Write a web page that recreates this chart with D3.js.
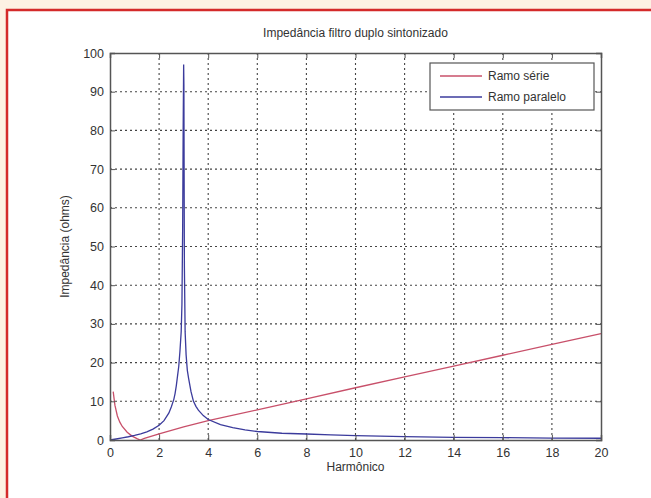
<!DOCTYPE html>
<html>
<head>
<meta charset="utf-8">
<script src="https://cdn.jsdelivr.net/npm/d3@7"></script>
<style>
  body { margin: 0; background: #fdf1e3; overflow: hidden; }
  svg { display: block; font-family: "Liberation Sans", Arial, sans-serif; }
</style>
</head>
<body>
<svg id="chart"></svg>
<script>
// harmonic order samples and impedance (ohms)
var serieH = [0.13, 0.2, 0.3, 0.4, 0.5, 0.7, 0.9, 1.1, 1.23, 1.4, 1.7, 2, 3, 4, 6, 8, 10, 12, 14, 16, 18, 20];
var serieZ = [12.5, 9, 6.2, 4.6, 3.5, 2.0, 1.0, 0.35, 0, 0.4, 1.0, 1.6, 3.4, 5.0, 7.8, 10.6, 13.5, 16.3, 19.1, 21.9, 24.7, 27.5];

var paraleloH = [0, 0.25, 0.5, 0.75, 1, 1.25, 1.5, 1.75, 2, 2.2, 2.4, 2.5, 2.6, 2.65, 2.7, 2.75, 2.8, 2.85, 2.9, 2.93, 2.96, 2.98, 3.0,
                 3.01, 3.03, 3.06, 3.1, 3.15, 3.2, 3.3, 3.4, 3.5, 3.6, 3.8, 4, 4.5, 5, 5.5, 6, 7, 8, 9, 10, 12, 14, 16, 18, 20];
var paraleloZ = [0, 0.26, 0.54, 0.84, 1.18, 1.6, 2.1, 2.8, 3.8, 5.0, 7.0, 8.6, 10.5, 12, 14, 16.5, 19, 23, 28, 35, 55, 80, 97,
                 92, 45, 28, 22, 18, 16, 12.5, 10, 8.7, 7.7, 6.3, 5.3, 4.0, 3.2, 2.6, 2.2, 1.75, 1.55, 1.3, 1.15, 0.85, 0.7, 0.6, 0.5, 0.45];

var xTicks = [0, 2, 4, 6, 8, 10, 12, 14, 16, 18, 20];
var yTicks = [0, 10, 20, 30, 40, 50, 60, 70, 80, 90, 100];
var seriesNames = ["Ramo série", "Ramo paralelo"];
var seriesColors = ["#c8506a", "#3b3b9c"];

var width = 651, height = 498;
var margin = { left: 110, right: 50, top: 53, bottom: 58 };

var svg = d3.select("#chart").attr("width", width).attr("height", height);

// white panel, red frame only on top and left (it runs off the other edges)
svg.append("rect")
    .attr("x", 7).attr("y", 10)
    .attr("width", width - 7).attr("height", height - 10)
    .attr("fill", "#fff");
svg.append("path")
    .attr("d", `M7,${height} V10 H${width}`)
    .attr("fill", "none")
    .attr("stroke", "#d42a2a")
    .attr("stroke-width", 2.5);

var x = d3.scaleLinear().domain([0, 20]).range([margin.left, width - margin.right]);
var y = d3.scaleLinear().domain([0, 100]).range([height - margin.bottom, margin.top]);

var g = svg.append("g");

// dotted grid
g.selectAll(".vgrid").data(xTicks.slice(1, -1)).enter()
  .append("line")
    .attr("x1", d => x(d)).attr("x2", d => x(d))
    .attr("y1", y(0)).attr("y2", y(100))
    .attr("stroke", "#444").attr("stroke-width", 1.1)
    .attr("stroke-dasharray", "2,3");
g.selectAll(".hgrid").data(yTicks.slice(1, -1)).enter()
  .append("line")
    .attr("x1", x(0)).attr("x2", x(20))
    .attr("y1", d => y(d)).attr("y2", d => y(d))
    .attr("stroke", "#444").attr("stroke-width", 1.1)
    .attr("stroke-dasharray", "2,3");

// curves
var line = d3.line().x(d => x(d[0])).y(d => y(d[1]));

g.append("path")
    .datum(d3.zip(serieH, serieZ))
    .attr("d", line)
    .attr("fill", "none")
    .attr("stroke", seriesColors[0])
    .attr("stroke-width", 1.3);

g.append("path")
    .datum(d3.zip(paraleloH, paraleloZ))
    .attr("d", line)
    .attr("fill", "none")
    .attr("stroke", seriesColors[1])
    .attr("stroke-width", 1.3);

// axes (inward ticks, box)
var axisColor = "#555";
var xb = g.append("g").attr("transform", `translate(0,${y(0)})`)
    .call(d3.axisBottom(x).tickValues(xTicks).tickSize(-5).tickPadding(8));
var xt = g.append("g").attr("transform", `translate(0,${y(100)})`)
    .call(d3.axisTop(x).tickValues(xTicks).tickSize(-5).tickFormat(""));
var yl = g.append("g").attr("transform", `translate(${x(0)},0)`)
    .call(d3.axisLeft(y).tickValues(yTicks).tickSize(-5).tickPadding(6));
var yr = g.append("g").attr("transform", `translate(${x(20)},0)`)
    .call(d3.axisRight(y).tickValues(yTicks).tickSize(-5).tickFormat(""));

[xb, xt, yl, yr].forEach(a => {
  a.select(".domain").attr("stroke", axisColor).attr("stroke-width", 1.5);
  a.selectAll(".tick line").attr("stroke", axisColor);
  a.selectAll("text").attr("fill", "#333").style("font-size", "12.5px")
    .style("font-family", "'Liberation Sans', Arial, sans-serif");
});

// labels
svg.append("text")
    .attr("x", x(10)).attr("y", 37)
    .attr("text-anchor", "middle")
    .attr("fill", "#333").style("font-size", "12px")
    .text("Impedância filtro duplo sintonizado");

svg.append("text")
    .attr("x", x(10)).attr("y", 471)
    .attr("text-anchor", "middle")
    .attr("fill", "#333").style("font-size", "12px")
    .text("Harmônico");

svg.append("text")
    .attr("transform", `translate(69,${y(50)}) rotate(-90)`)
    .attr("text-anchor", "middle")
    .attr("fill", "#333").style("font-size", "12px")
    .text("Impedância (ohms)");

// legend
var legend = svg.append("g").attr("transform", "translate(430,63)");
legend.append("rect")
    .attr("width", 164).attr("height", 47)
    .attr("fill", "#fff")
    .attr("stroke", "#555").attr("stroke-width", 1.2);

var rows = legend.selectAll(".row").data(seriesNames).enter()
  .append("g")
    .attr("transform", (d, i) => `translate(0,${13 + i * 21})`);
rows.append("line")
    .attr("x1", 10).attr("x2", 52)
    .attr("stroke", (d, i) => seriesColors[i]).attr("stroke-width", 1.3);
rows.append("text")
    .attr("x", 58).attr("dy", "0.35em")
    .attr("fill", "#333").style("font-size", "12px")
    .text(d => d);
</script>
</body>
</html>
